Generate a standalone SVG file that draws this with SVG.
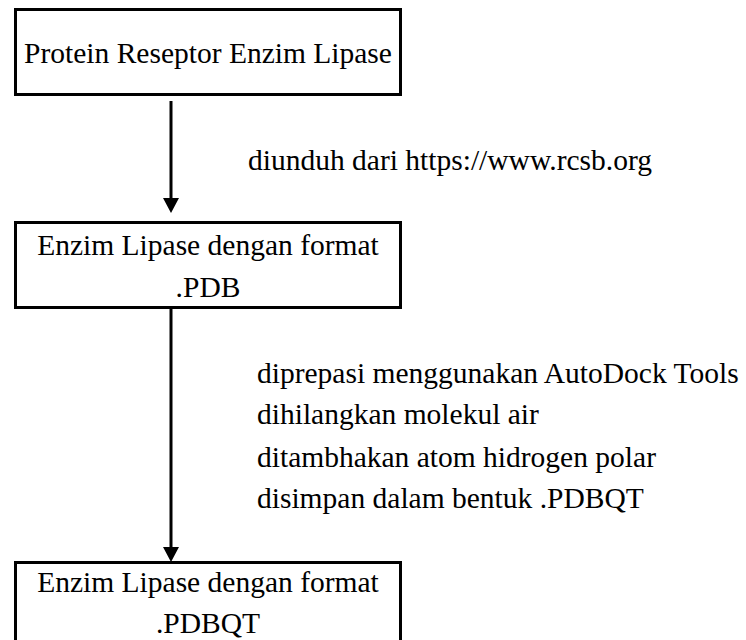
<svg xmlns="http://www.w3.org/2000/svg" width="746" height="640" viewBox="0 0 746 640">
<style>
.box{fill:#fff;stroke:#000;stroke-width:3}
text{font-family:'Liberation Serif','Times New Roman',Times,serif;font-size:29.5px;fill:#000}
.c{text-anchor:middle}
.conn{stroke:#000;stroke-width:3;fill:none}
</style>
<rect width="746" height="640" fill="#fff"/>
<g id="connectors">
<path class="conn" d="M171,101 V198"/>
<polygon points="163,198 179,198 171,213" fill="#000"/>
<path class="conn" d="M171,308 V548"/>
<polygon points="163,547 179,547 171,562" fill="#000"/>
</g>
<g id="node1">
<rect class="box" x="15.5" y="9.5" width="385" height="85"/>
<text class="c" x="208" y="63">Protein Reseptor Enzim Lipase</text>
</g>
<g id="node2">
<rect class="box" x="15.5" y="222.5" width="385" height="85"/>
<text class="c" x="208" y="255">Enzim Lipase dengan format</text>
<text class="c" x="208" y="297">.PDB</text>
</g>
<g id="node3">
<rect class="box" x="15.5" y="562.5" width="385" height="100"/>
<text class="c" x="208" y="592">Enzim Lipase dengan format</text>
<text class="c" x="208" y="633">.PDBQT</text>
</g>
<g id="labels">
<text x="248" y="170">diunduh dari https://www.rcsb.org</text>
<text x="257" y="383">diprepasi menggunakan AutoDock Tools</text>
<text x="257" y="424">dihilangkan molekul air</text>
<text x="257" y="467">ditambhakan atom hidrogen polar</text>
<text x="257" y="508">disimpan dalam bentuk .PDBQT</text>
</g>
</svg>
